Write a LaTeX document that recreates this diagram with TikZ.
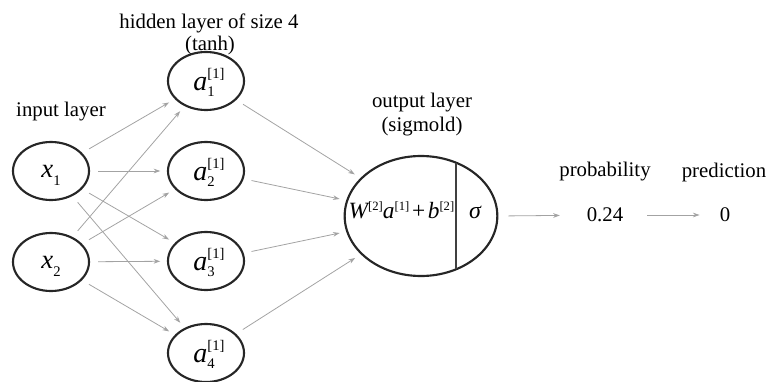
\documentclass[tikz,border=0pt]{standalone}
\usepackage{fontspec}
\setmainfont{Liberation Serif}
\usetikzlibrary{shapes.geometric,arrows.meta}
\newcommand{\scfont}{\fontsize{11}{12}\selectfont}
\newcommand{\hlab}[1]{\hspace{4.5pt}{\itshape a}\rlap{\raisebox{9pt}{\scfont[1]}}\rlap{\raisebox{-4.5pt}{\scfont #1}}\hphantom{\scfont[1]}}
\newcommand{\xlab}[1]{{\itshape x}\raisebox{-6.5pt}{\scfont #1}}
\newcommand{\esup}[1]{\raisebox{5.5pt}{\fontsize{9.5}{10}\selectfont #1}}
\tikzset{
  neuron/.style={ellipse, draw=black!85, line width=1.6pt, minimum width=57pt,
    minimum height=43.5pt, inner sep=0pt, text depth=0pt},
  hnode/.style={neuron, font=\fontsize{21}{22}\selectfont, text height=13.5pt},
  inode/.style={neuron, font=\fontsize{20}{22}\selectfont, text height=9pt},
  bignode/.style={ellipse, draw=black!85, line width=1.6pt, minimum width=114.5pt,
    minimum height=90pt, inner sep=0pt},
  lab/.style={font=\fontsize{15.6}{18}\selectfont, inner sep=0pt},
  conn/.style={draw=black!36, line width=0.6pt, -{Stealth[length=5pt,width=3.5pt]},
    shorten <=6pt, shorten >=5pt},
}
\begin{document}
\begin{tikzpicture}[x=0.75pt,y=-0.75pt]
\useasboundingbox (0,0) rectangle (768,382);
% labels
\node[lab] (lin) at (61,112) {input layer};
\node[lab] (lhid) at (209,23) {hidden layer of size 4};
\node[lab] (ltanh) at (210,45) {(tanh)};
\node[lab] (lout) at (422,103) {output layer};
\node[lab] (lsig) at (422,127) {(sigmold)};
\node[lab] (lprob) at (605,172) {probability};
\node[lab] (lpred) at (724,172) {prediction};
% input
\node[inode] (x1) at (51,171) {\xlab{1}};
\node[inode] (x2) at (51,262) {\xlab{2}};
% hidden
\node[hnode] (a1) at (206,81) {\hlab{1}};
\node[hnode] (a2) at (206,171) {\hlab{2}};
\node[hnode] (a3) at (206,261) {\hlab{3}};
\node[hnode] (a4) at (206,353) {\hlab{4}};
% output
\node[bignode] (out) at (421,216) {};
\coordinate (vt) at (456,163);
\coordinate (vb) at (456,269);
\draw[black!75, line width=1pt] (vt) -- (vb);
\node[inner sep=0pt, anchor=base, font=\fontsize{17.5}{20}\selectfont] (expr) at (401.5,218)
  {{\itshape W}\esup{[2]}{\itshape a}\esup{[1]}\hspace{2pt}+\hspace{2pt}{\itshape b}\esup{[2]}};
\node[inner sep=0pt, anchor=base, font=\fontsize{18}{20}\selectfont] (sig) at (475,218) {\itshape σ};
% results
\node[lab] (p) at (605,215) {0.24};
\node[lab] (q) at (725,215) {0};
% connectors
\foreach \s in {x1,x2}{
  \foreach \t in {a1,a2,a3,a4}{
    \draw[conn] (\s) -- (\t);
  }
}
\foreach \t in {a1,a2,a3,a4}{
  \draw[conn] (\t) -- (out);
}
\draw[conn, shorten <=7.5pt, shorten >=20pt] (out.east) -- (p);
\draw[conn, shorten <=18pt, shorten >=15pt] (p) -- (q);
\end{tikzpicture}
\end{document}
